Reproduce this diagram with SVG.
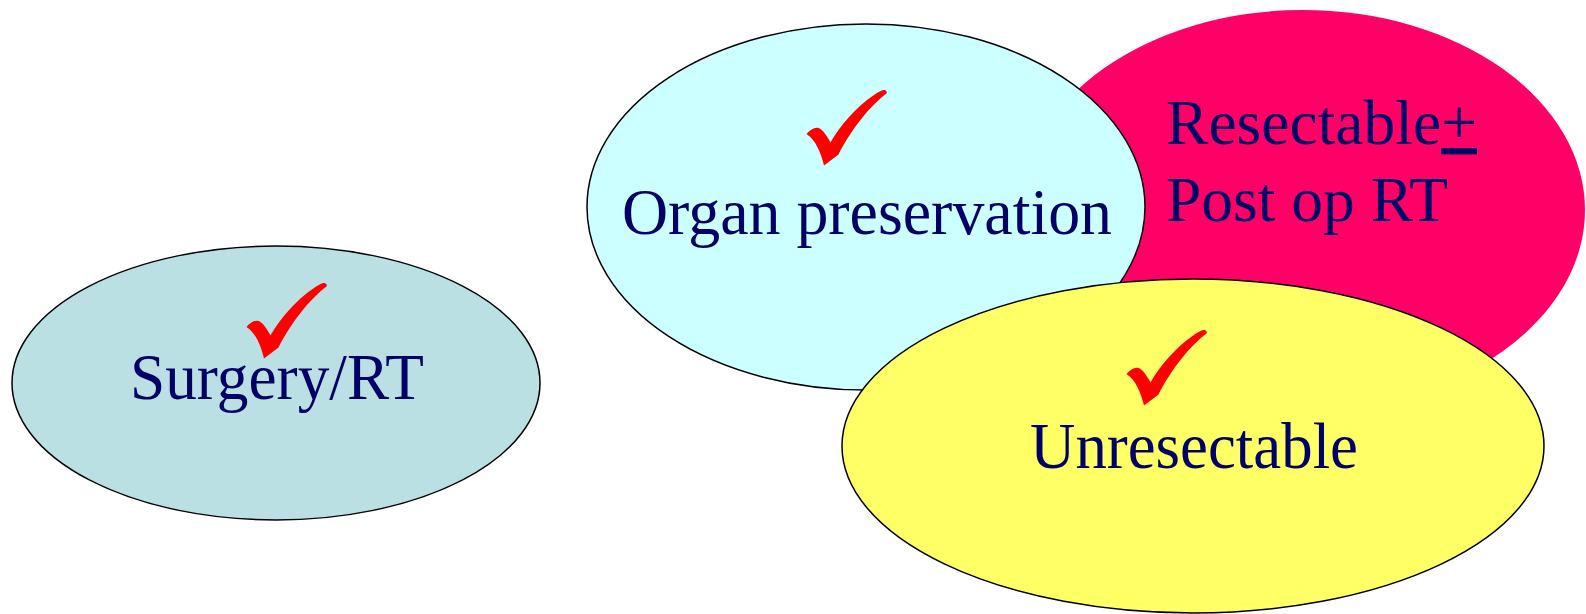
<svg xmlns="http://www.w3.org/2000/svg" xmlns:xlink="http://www.w3.org/1999/xlink" width="1586" height="614" viewBox="0 0 1586 614">
  <style>
    .lbl { font-family: "Liberation Serif", "Times New Roman", serif; font-size: 66px; fill: #000066; }
    .sm { font-size: 64px; }
    .outline { stroke: #000000; stroke-width: 1.5; }
    .check { fill: #FF0000; }
  </style>
  <defs>
    <path id="tick" d="M 0.5 45 C 4 40.5, 9 38, 12.5 39 C 17 40.5, 21 47, 24.5 53.5 C 33 38, 50 18, 68 6 C 73 2.5, 76 1, 78 1 C 80 1, 81.5 3, 80.5 4.5 C 65 16, 46 39, 32.5 65.5 L 18 76.5 C 15 64, 9.5 50.5, 0.5 45 Z"/>
  </defs>
  <rect width="1586" height="614" fill="#FFFFFF"/>

  <g id="surgery">
    <ellipse class="outline" cx="276" cy="383" rx="264" ry="137" fill="#BAE0E3"/>
    <use xlink:href="#tick" class="check" x="246" y="282"/>
    <text class="lbl" x="130" y="399" textLength="294" lengthAdjust="spacingAndGlyphs">Surgery/RT</text>
  </g>

  <g id="resectable">
    <ellipse cx="1303" cy="210" rx="282" ry="200" fill="#FF0066"/>
    <text class="lbl sm" x="1166" y="144" textLength="311" lengthAdjust="spacingAndGlyphs">Resectable<tspan text-decoration="underline">+</tspan></text>
    <text class="lbl sm" x="1166" y="221" textLength="282" lengthAdjust="spacingAndGlyphs">Post op RT</text>
  </g>

  <g id="organ">
    <ellipse class="outline" cx="866" cy="207" rx="279" ry="183" fill="#CCFFFF"/>
    <use xlink:href="#tick" class="check" x="806" y="89"/>
    <text class="lbl" x="622" y="234" textLength="490" lengthAdjust="spacingAndGlyphs">Organ preservation</text>
  </g>

  <g id="unresectable">
    <ellipse class="outline" cx="1193" cy="446" rx="351" ry="167" fill="#FFFF66"/>
    <use xlink:href="#tick" class="check" x="1126" y="329"/>
    <text class="lbl" x="1030" y="468" textLength="328" lengthAdjust="spacingAndGlyphs">Unresectable</text>
  </g>

  <g id="connectors"/>
</svg>
